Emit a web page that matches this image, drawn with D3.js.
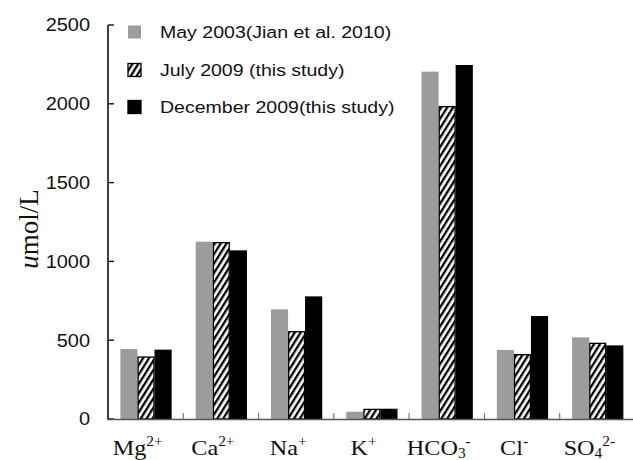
<!DOCTYPE html>
<html>
<head>
<meta charset="utf-8">
<script src="https://cdn.jsdelivr.net/npm/d3@7"></script>
<style>
html,body{margin:0;padding:0;background:#fff;}
svg{display:block;}
</style>
</head>
<body>
<svg id="chart" width="633" height="460"></svg>
<script>
const categories = ["Mg", "Ca", "Na", "K", "HCO3", "Cl", "SO4"];
const seriesNames = ["May 2003(Jian et al. 2010)", "July 2009 (this study)", "December 2009(this study)"];
const may2003 = [444, 1125, 696, 46, 2204, 438, 518];
const july2009 = [393, 1119, 554, 61, 1982, 408, 480];
const dec2009 = [436, 1066, 774, 61, 2242, 649, 463];
const yTicks = [0, 500, 1000, 1500, 2000, 2500];
// label parts: [base, sub, sup]
const catLabels = [
  ["Mg", "", "2+"], ["Ca", "", "2+"], ["Na", "", "+"], ["K", "", "+"],
  ["HCO", "3", "-"], ["Cl", "", "-"], ["SO", "4", "2-"]
];

const svg = d3.select("#chart");
const defs = svg.append("defs");
const pat = defs.append("pattern").attr("id", "hatch")
  .attr("patternUnits", "userSpaceOnUse").attr("width", 5).attr("height", 5)
  .attr("patternTransform", "rotate(32)");
pat.append("rect").attr("width", 5).attr("height", 5).attr("fill", "#fff");
pat.append("rect").attr("x", 0).attr("y", 0).attr("width", 2.3).attr("height", 5).attr("fill", "#000");

const y = d3.scaleLinear().domain([0, 2500]).range([419, 25]);
const x = d3.scaleBand().domain(categories).range([108, 635]).padding(0);
const bw = x.bandwidth();
const x1 = d3.scaleBand().domain(seriesNames).range([bw * 0.165, bw * 0.845]).padding(0);

const fills = ["#9c9c9c", "url(#hatch)", "#000"];
const strokes = ["none", "#000", "#000"];
const data = [may2003, july2009, dec2009];

// bars
data.forEach((vals, si) => {
  svg.append("g").selectAll("rect").data(categories).join("rect")
    .attr("x", c => x(c) + x1(seriesNames[si]) + (si > 0 ? 0.6 : 0))
    .attr("y", (c, i) => y(vals[i]))
    .attr("width", x1.bandwidth() - (si > 0 ? 1.2 : 0))
    .attr("height", (c, i) => y(0) - y(vals[i]))
    .attr("fill", fills[si])
    .attr("stroke", strokes[si])
    .attr("stroke-width", 1.3);
});

// y axis
const yAxis = svg.append("g");
yAxis.append("line").attr("x1", 108).attr("x2", 108).attr("y1", y(2500)).attr("y2", y(0))
  .attr("stroke", "#111").attr("stroke-width", 1.6);
yAxis.selectAll("line.tk").data(yTicks).join("line").attr("class", "tk")
  .attr("x1", 108).attr("x2", 114).attr("y1", d => y(d)).attr("y2", d => y(d))
  .attr("stroke", "#111").attr("stroke-width", 1.4);
yAxis.selectAll("text").data(yTicks).join("text")
  .attr("transform", d => `translate(90,${y(d)}) scale(1.14,1)`)
  .attr("text-anchor", "end").attr("dy", "0.36em")
  .attr("font-family", "Liberation Sans, Arial, sans-serif").attr("font-size", 17.5)
  .attr("fill", "#111")
  .text(d => d);

// x axis
const xAxis = svg.append("g");
xAxis.append("line").attr("x1", 107).attr("x2", 633).attr("y1", 419.5).attr("y2", 419.5)
  .attr("stroke", "#555").attr("stroke-width", 1.6);
xAxis.selectAll("line.tk").data(categories.slice(1).concat(["end"])).join("line").attr("class", "tk")
  .attr("x1", (c, i) => 108 + bw * (i + 1)).attr("x2", (c, i) => 108 + bw * (i + 1))
  .attr("y1", 419).attr("y2", 413)
  .attr("stroke", "#777").attr("stroke-width", 1.2);

const xl = xAxis.selectAll("text").data(categories).join("text")
  .attr("transform", c => `translate(${x(c) + bw / 2 - 8},455) scale(1.1,1)`)
  .attr("text-anchor", "middle")
  .attr("font-family", "Liberation Serif, Times New Roman, serif")
  .attr("font-size", 22)
  .attr("fill", "#111");
xl.each(function(c, i) {
  const t = d3.select(this);
  const [base, sub, sup] = catLabels[i];
  t.append("tspan").text(base);
  if (sub) t.append("tspan").attr("font-size", 14).attr("dy", 3).text(sub);
  if (sup) t.append("tspan").attr("font-size", 14).attr("dy", sub ? -12 : -9).text(sup);
});

// y label
svg.append("text")
  .attr("transform", "translate(38,229) rotate(-90)")
  .attr("text-anchor", "middle")
  .attr("font-family", "Liberation Serif, Times New Roman, serif")
  .attr("font-size", 27).attr("fill", "#111")
  .call(t => {
    t.append("tspan").attr("font-style", "italic").text("u");
    t.append("tspan").text("mol/L");
  });

// legend
const legY = [32, 70, 107];
const leg = svg.append("g");
seriesNames.forEach((s, i) => {
  leg.append("rect").attr("x", 128).attr("y", legY[i] - 6.5).attr("width", 13).attr("height", 13)
    .attr("fill", fills[i]).attr("stroke", i === 0 ? "none" : "#000").attr("stroke-width", 1.3);
  leg.append("text")
    .attr("transform", `translate(160,${legY[i]}) scale(1.15,1)`)
    .attr("dy", "0.36em")
    .attr("font-family", "Liberation Sans, Arial, sans-serif").attr("font-size", 17)
    .attr("fill", "#111")
    .text(s);
});
</script>
</body>
</html>
